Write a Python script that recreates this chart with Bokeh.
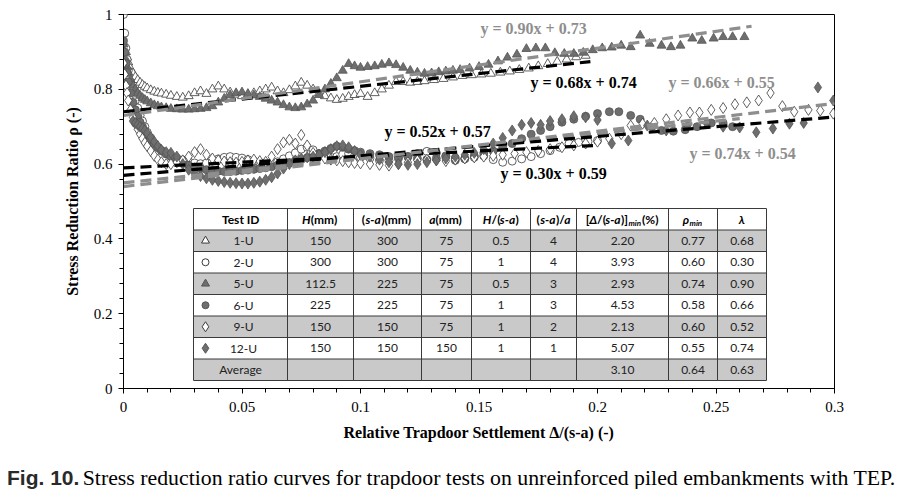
from bokeh.plotting import figure
from bokeh.models import Range1d, FixedTicker, NumeralTickFormatter, Label, Div
from bokeh.layouts import column
from bokeh.core.properties import value
from bokeh.embed import file_html
from bokeh.resources import INLINE

# ---------------- data ----------------
X_EARLY = [0.0, 0.0005, 0.001, 0.0015, 0.002, 0.003, 0.004, 0.005, 0.006, 0.007,
           0.008, 0.009, 0.010, 0.0115, 0.013, 0.0145, 0.016, 0.018, 0.020, 0.0225,
           0.025, 0.0275, 0.030, 0.0325, 0.035, 0.0375, 0.040, 0.0425, 0.045, 0.0475,
           0.050, 0.0525, 0.055, 0.0575, 0.060, 0.0625, 0.065, 0.0675, 0.070, 0.0725,
           0.075, 0.0775, 0.080, 0.0825, 0.085, 0.0875, 0.090, 0.0925, 0.095, 0.0975,
           0.100]

# 1-U (open triangles)
u1_y_early = [0.95, 0.92, 0.90, 0.885, 0.872, 0.855, 0.843, 0.833, 0.825, 0.818,
              0.812, 0.807, 0.803, 0.798, 0.794, 0.791, 0.789, 0.786, 0.783, 0.780,
              0.778, 0.782, 0.790, 0.795, 0.788, 0.800, 0.808, 0.800, 0.792, 0.786,
              0.782, 0.785, 0.790, 0.795, 0.800, 0.805, 0.795, 0.790, 0.798, 0.808,
              0.818, 0.810, 0.800, 0.790, 0.782, 0.776, 0.772, 0.775, 0.780, 0.785,
              0.788]
u1_x_tail = [0.103, 0.106, 0.109, 0.112, 0.115, 0.118, 0.121, 0.124, 0.127, 0.131,
             0.135, 0.139, 0.143, 0.147, 0.151, 0.155, 0.159, 0.163, 0.167, 0.171,
             0.175, 0.179, 0.183, 0.187, 0.191, 0.195]
u1_y_tail = [0.780, 0.790, 0.800, 0.810, 0.820, 0.820, 0.818, 0.820, 0.822, 0.825,
             0.828, 0.832, 0.836, 0.838, 0.840, 0.842, 0.845, 0.848, 0.852, 0.856,
             0.862, 0.868, 0.874, 0.880, 0.886, 0.890]

# 2-U (open circles)
u2_y_early = [1.00, 0.95, 0.91, 0.88, 0.85, 0.82, 0.795, 0.77, 0.75, 0.73,
              0.715, 0.70, 0.685, 0.67, 0.655, 0.645, 0.636, 0.628, 0.622, 0.616,
              0.611, 0.607, 0.603, 0.601, 0.603, 0.608, 0.614, 0.618, 0.620, 0.618,
              0.616, 0.612, 0.608, 0.604, 0.601, 0.602, 0.606, 0.614, 0.622, 0.630,
              0.640, 0.645, 0.638, 0.628, 0.622, 0.618, 0.620, 0.626, 0.628, 0.622,
              0.618]
u2_x_tail = [0.104, 0.108, 0.112, 0.116, 0.120, 0.124, 0.128, 0.132, 0.136, 0.140,
             0.144, 0.148, 0.152, 0.156, 0.160, 0.164, 0.168, 0.172, 0.176, 0.180,
             0.184, 0.188, 0.192, 0.196, 0.200]
u2_y_tail = [0.616, 0.610, 0.610, 0.615, 0.620, 0.628, 0.634, 0.630, 0.622, 0.616,
             0.614, 0.618, 0.622, 0.612, 0.605, 0.608, 0.614, 0.620, 0.628, 0.636,
             0.645, 0.655, 0.658, 0.660, 0.663]

# 5-U (filled triangles)
u5_y_early = [0.92, 0.90, 0.88, 0.86, 0.845, 0.825, 0.81, 0.80, 0.79, 0.783,
              0.777, 0.772, 0.768, 0.763, 0.758, 0.755, 0.752, 0.750, 0.748, 0.747,
              0.746, 0.746, 0.747, 0.748, 0.750, 0.755, 0.765, 0.775, 0.785, 0.790,
              0.792, 0.788, 0.784, 0.780, 0.775, 0.770, 0.765, 0.758, 0.752, 0.750,
              0.752, 0.760, 0.770, 0.785, 0.800, 0.815, 0.830, 0.850, 0.868, 0.862,
              0.858]
u5_x_tail = [0.103, 0.106, 0.109, 0.112, 0.115, 0.118, 0.121, 0.124, 0.127, 0.130,
             0.133, 0.136, 0.139, 0.142, 0.146, 0.150, 0.154, 0.158, 0.162, 0.166,
             0.170, 0.174, 0.178, 0.182, 0.186, 0.190, 0.194, 0.198, 0.202, 0.206,
             0.210, 0.214, 0.218, 0.222, 0.227, 0.231, 0.235, 0.240, 0.244, 0.249,
             0.253, 0.257, 0.262]
u5_y_tail = [0.860, 0.862, 0.866, 0.870, 0.865, 0.858, 0.850, 0.845, 0.842, 0.843,
             0.846, 0.848, 0.850, 0.852, 0.856, 0.860, 0.866, 0.875, 0.885, 0.893,
             0.908, 0.910, 0.910, 0.897, 0.895, 0.895, 0.898, 0.905, 0.910, 0.912,
             0.917, 0.913, 0.944, 0.922, 0.917, 0.913, 0.917, 0.936, 0.930, 0.936,
             0.940, 0.940, 0.940]

# 6-U (filled circles)
u6_y_early = [0.93, 0.90, 0.87, 0.845, 0.82, 0.79, 0.765, 0.745, 0.728, 0.712,
              0.700, 0.688, 0.677, 0.664, 0.653, 0.644, 0.636, 0.627, 0.620, 0.612,
              0.604, 0.597, 0.592, 0.588, 0.585, 0.583, 0.581, 0.580, 0.580, 0.581,
              0.583, 0.584, 0.586, 0.588, 0.590, 0.593, 0.597, 0.600, 0.604, 0.608,
              0.612, 0.617, 0.622, 0.628, 0.635, 0.642, 0.648, 0.645, 0.640, 0.636,
              0.632]
u6_x_tail = [0.104, 0.108, 0.112, 0.116, 0.120, 0.124, 0.128, 0.132, 0.136, 0.140,
             0.144, 0.148, 0.152, 0.156, 0.160, 0.164, 0.168, 0.172, 0.176, 0.180,
             0.185, 0.190, 0.195, 0.200, 0.205, 0.209, 0.214, 0.218, 0.223, 0.227,
             0.232, 0.237, 0.242, 0.248, 0.253, 0.257]
u6_y_tail = [0.628, 0.625, 0.620, 0.618, 0.620, 0.615, 0.612, 0.615, 0.620, 0.610,
             0.615, 0.622, 0.630, 0.635, 0.645, 0.655, 0.668, 0.680, 0.690, 0.700,
             0.712, 0.720, 0.728, 0.735, 0.740, 0.740, 0.730, 0.720, 0.700, 0.690,
             0.688, 0.692, 0.700, 0.710, 0.710, 0.700]

# 9-U (open diamonds)
u9_y_early = [0.87, 0.84, 0.81, 0.79, 0.77, 0.745, 0.725, 0.708, 0.693, 0.680,
              0.668, 0.657, 0.648, 0.635, 0.622, 0.612, 0.605, 0.600, 0.600, 0.605,
              0.610, 0.620, 0.632, 0.640, 0.625, 0.615, 0.610, 0.607, 0.605, 0.604,
              0.606, 0.610, 0.612, 0.608, 0.606, 0.620, 0.640, 0.658, 0.665, 0.655,
              0.678, 0.650, 0.630, 0.620, 0.615, 0.612, 0.610, 0.608, 0.605, 0.603,
              0.602]
u9_x_tail = [0.104, 0.108, 0.112, 0.116, 0.120, 0.124, 0.128, 0.132, 0.136, 0.140,
             0.144, 0.148, 0.152, 0.156, 0.160, 0.165, 0.170, 0.175, 0.180, 0.185,
             0.190, 0.195, 0.200, 0.205, 0.210, 0.214, 0.219, 0.224, 0.229, 0.234,
             0.239, 0.243, 0.248, 0.253, 0.258, 0.263, 0.268, 0.273, 0.278, 0.283,
             0.289, 0.294, 0.2995]
u9_y_tail = [0.600, 0.598, 0.596, 0.600, 0.605, 0.610, 0.612, 0.610, 0.608, 0.612,
             0.615, 0.618, 0.620, 0.622, 0.625, 0.628, 0.632, 0.635, 0.640, 0.645,
             0.650, 0.655, 0.660, 0.668, 0.680, 0.703, 0.708, 0.710, 0.720, 0.730,
             0.738, 0.738, 0.745, 0.750, 0.760, 0.765, 0.770, 0.790, 0.755, 0.740,
             0.745, 0.743, 0.735]

# 12-U (filled diamonds) - starts at X_EARLY[6]
u12_y_early = [0.715, 0.710, 0.705, 0.700, 0.695, 0.690, 0.683, 0.672, 0.660, 0.648,
               0.638, 0.632, 0.630, 0.620, 0.600, 0.585, 0.575, 0.568, 0.562, 0.558,
               0.555, 0.552, 0.550, 0.549, 0.548, 0.548, 0.550, 0.553, 0.558, 0.565,
               0.575, 0.588, 0.600, 0.610, 0.615, 0.618, 0.620, 0.625, 0.632, 0.640,
               0.648, 0.650, 0.645, 0.635, 0.625]
u12_x_tail = [0.104, 0.108, 0.112, 0.116, 0.120, 0.124, 0.128, 0.132, 0.136, 0.140,
              0.144, 0.148, 0.152, 0.156, 0.160, 0.164, 0.168, 0.172, 0.176, 0.180,
              0.185, 0.190, 0.195, 0.200, 0.206, 0.213, 0.221, 0.229, 0.238, 0.246,
              0.253, 0.260, 0.267, 0.274, 0.281, 0.287, 0.293, 0.2995]
u12_y_tail = [0.620, 0.612, 0.605, 0.600, 0.598, 0.600, 0.605, 0.610, 0.615, 0.620,
              0.625, 0.630, 0.640, 0.655, 0.670, 0.690, 0.705, 0.710, 0.705, 0.715,
              0.720, 0.728, 0.725, 0.718, 0.655, 0.663, 0.703, 0.690, 0.703, 0.710,
              0.700, 0.698, 0.685, 0.695, 0.708, 0.710, 0.805, 0.770]

# table
TEST_IDS = ["1-U", "2-U", "5-U", "6-U", "9-U", "12-U"]
H_MM = ["150", "300", "112.5", "225", "150", "150"]
SA_MM = ["300", "300", "225", "225", "150", "150"]
A_MM = ["75", "75", "75", "75", "75", "150"]
H_SA = ["0.5", "1", "0.5", "1", "1", "1"]
SA_A = ["4", "4", "3", "3", "2", "1"]
DELTA_MIN = ["2.20", "3.93", "2.93", "4.53", "2.13", "5.07"]
RHO_MIN = ["0.77", "0.60", "0.74", "0.58", "0.60", "0.55"]
LAMBDA = [0.68, 0.30, 0.90, 0.66, 0.52, 0.74]
INTERCEPT = [0.74, 0.59, 0.73, 0.55, 0.57, 0.54]
TREND_END = [0.197, 0.200, 0.265, 0.260, 0.300, 0.300]
AVERAGE = ["3.10", "0.64", "0.63"]

X_TICKS = [0, 0.05, 0.1, 0.15, 0.2, 0.25, 0.3]
Y_TICKS = [0, 0.2, 0.4, 0.6, 0.8, 1.0]

CAPTION_LEAD = "Fig. 10."
CAPTION_TEXT = "Stress reduction ratio curves for trapdoor tests on unreinforced piled embankments with TEP."

# ---------------- layout / styles ----------------
FIG_H = 455
FRAME_L, FRAME_R, FRAME_T, FRAME_B = 123, 834, 14, 388
XMAX, YMAX = 0.3, 1.0
SERIF = "Liberation Serif"
TABLE_FONT = "Lato"
GRAY_FILL = "#6e6e6e"
GRAY_LINE = "#555555"
OPEN_LINE = "#3a3a3a"
TREND_GRAY = "#8e8e8e"


def px_x(px):
    return (px - FRAME_L) / (FRAME_R - FRAME_L) * XMAX


def px_y(py):
    return (FRAME_B - py) / (FRAME_B - FRAME_T) * YMAX


series = [
    dict(x=X_EARLY + u1_x_tail, y=u1_y_early + u1_y_tail, marker="triangle", filled=False),
    dict(x=X_EARLY + u2_x_tail, y=u2_y_early + u2_y_tail, marker="circle", filled=False),
    dict(x=X_EARLY + u5_x_tail, y=u5_y_early + u5_y_tail, marker="triangle", filled=True),
    dict(x=X_EARLY + u6_x_tail, y=u6_y_early + u6_y_tail, marker="circle", filled=True),
    dict(x=X_EARLY + u9_x_tail, y=u9_y_early + u9_y_tail, marker="diamond", filled=False),
    dict(x=X_EARLY[6:] + u12_x_tail, y=u12_y_early + u12_y_tail, marker="diamond", filled=True),
]
MSIZE = {"triangle": 9, "circle": 8, "diamond": 11}

p = figure(width=907, height=FIG_H, x_range=Range1d(0, XMAX), y_range=Range1d(0, YMAX),
           output_backend="svg", toolbar_location=None,
           min_border_left=FRAME_L, min_border_right=907 - FRAME_R,
           min_border_top=FRAME_T, min_border_bottom=FIG_H - FRAME_B)
p.xgrid.visible = False
p.ygrid.visible = False
p.outline_line_color = "black"
p.outline_line_width = 1
p.background_fill_color = "white"
p.border_fill_color = "white"

p.xaxis.ticker = FixedTicker(ticks=X_TICKS, minor_ticks=[i / 100 for i in range(31)])
p.yaxis.ticker = FixedTicker(ticks=Y_TICKS, minor_ticks=[i * 0.04 for i in range(26)])
p.xaxis.formatter = NumeralTickFormatter(format="0.[00]")
p.yaxis.formatter = NumeralTickFormatter(format="0.[0]")
for ax in (p.xaxis[0], p.yaxis[0]):
    ax.axis_line_color = "black"
    ax.major_tick_line_color = "black"
    ax.minor_tick_line_color = "black"
    ax.major_tick_in = 0
    ax.major_tick_out = 5
    ax.minor_tick_in = 0
    ax.minor_tick_out = 4
    ax.major_label_text_font = SERIF
    ax.major_label_text_font_size = "15px"
    ax.major_label_text_color = "black"
    ax.axis_label_text_font = SERIF
    ax.axis_label_text_font_size = "16px"
    ax.axis_label_text_font_style = "bold"
    ax.axis_label_text_color = "black"
p.xaxis.axis_label = "Relative Trapdoor Settlement Δ/(s-a) (-)"
p.yaxis.axis_label = "Stress Reduction Ratio ρ (-)"
p.xaxis.major_label_standoff = 8
p.xaxis.axis_label_standoff = 9
p.yaxis.major_label_standoff = 6
p.yaxis.axis_label_standoff = 10

# data markers
for s in series:
    p.scatter(s["x"], s["y"], marker=s["marker"], size=MSIZE[s["marker"]],
              fill_color=GRAY_FILL if s["filled"] else "white",
              line_color=GRAY_LINE if s["filled"] else OPEN_LINE, line_width=0.8)

# trend lines and equations
EQ_POS_PX = [(530, 82), (500, 173), (480, 28), (668, 82), (384, 131), (689, 153)]
for s, k, b, xe, (ex, ey) in zip(series, LAMBDA, INTERCEPT, TREND_END, EQ_POS_PX):
    col = TREND_GRAY if s["filled"] else "black"
    p.line([0, xe], [b, k * xe + b], line_color=col, line_width=3.2, line_dash="11 6")
    p.add_layout(Label(x=px_x(ex), y=px_y(ey), text=f"y = {k:.2f}x + {b:.2f}",
                       text_font=SERIF, text_font_style="bold", text_font_size="16px",
                       text_color=col, text_baseline="middle", text_align="left"))

# ---------------- table ----------------
COL_PX = [193, 287, 353, 421, 471, 530, 576, 668, 717, 766]
ROW_TOP_PX, ROW_H_PX, N_ROWS = 208, 21.5, 8
cols = [px_x(c) for c in COL_PX]
rows = [px_y(ROW_TOP_PX + i * ROW_H_PX) for i in range(N_ROWS + 1)]
row_mid = [(rows[i] + rows[i + 1]) / 2 for i in range(N_ROWS)]
col_mid = [(cols[i] + cols[i + 1]) / 2 for i in range(len(cols) - 1)]

shade = [False, True, False, True, False, True, False, True]
p.quad(left=[cols[0]] * N_ROWS, right=[cols[-1]] * N_ROWS,
       top=rows[:-1], bottom=rows[1:],
       fill_color=["#c9c9c9" if sh else "white" for sh in shade], line_color=None)
xs, ys = [], []
for r in rows:
    xs.append([cols[0], cols[-1]]); ys.append([r, r])
for c in cols:
    xs.append([c, c]); ys.append([rows[0], rows[-1]])
p.multi_line(xs, ys, line_color="#3a3a3a", line_width=1)

CW = {"m": 0.87, "i": 0.26, "l": 0.26, "n": 0.57, "(": 0.31, ")": 0.31, "[": 0.31,
      "]": 0.31, "/": 0.38, "-": 0.36, "a": 0.52, "s": 0.43, "H": 0.74, "Δ": 0.64,
      "ρ": 0.56, "%": 0.82, "λ": 0.55, "T": 0.55, "e": 0.52, "t": 0.36, " ": 0.23,
      "I": 0.28, "D": 0.72}


def tw(t, size):
    return sum(CW.get(ch, 0.55) for ch in t) * size


HEADERS = [
    [("Test ID", "bold")],
    [("H", "bold italic"), ("(mm)", "bold")],
    [("(", "bold"), ("s-a", "bold italic"), (")(mm)", "bold")],
    [("a", "bold italic"), ("(mm)", "bold")],
    [("H", "bold italic"), ("/(", "bold"), ("s-a", "bold italic"), (")", "bold")],
    [("(", "bold"), ("s-a", "bold italic"), (")/", "bold"), ("a", "bold italic")],
    [("[", "bold"), ("Δ", "bold italic"), ("/(", "bold"), ("s-a", "bold italic"),
     (")]", "bold"), ("min", "sub"), ("(%)", "bold")],
    [("ρ", "bold italic"), ("min", "sub")],
    [("λ", "bold italic")],
]
HS = 12
for cm, pieces in zip(col_mid, HEADERS):
    sizes = [8 if st == "sub" else HS for _, st in pieces]
    total = sum(tw(t, sz) for (t, _), sz in zip(pieces, sizes))
    off = -total / 2
    for (t, st), sz in zip(pieces, sizes):
        p.text(x=[cm], y=[row_mid[0]], text=[t], x_offset=off, y_offset=4 if st == "sub" else 0,
               text_font=value(TABLE_FONT), text_font_size=f"{sz}px",
               text_font_style="bold italic" if st == "sub" else st,
               text_align="left", text_baseline="middle", text_color="black")
        off += tw(t, sz)

body_cols = [H_MM, SA_MM, A_MM, H_SA, SA_A, DELTA_MIN, RHO_MIN, [f"{v:.2f}" for v in LAMBDA]]
tx, ty, tt = [], [], []
for r, tid in enumerate(TEST_IDS):
    tx.append(px_x(243)); ty.append(row_mid[r + 1]); tt.append(tid)
    for c, colvals in enumerate(body_cols):
        tx.append(col_mid[c + 1]); ty.append(row_mid[r + 1]); tt.append(colvals[r])
tx.append(col_mid[0]); ty.append(row_mid[-1]); tt.append("Average")
for c, v in zip((6, 7, 8), AVERAGE):
    tx.append(col_mid[c]); ty.append(row_mid[-1]); tt.append(v)
p.text(x=tx, y=ty, text=tt, text_font=value(TABLE_FONT), text_font_size="12px",
       text_align="center", text_baseline="middle", text_color="#222222")

# legend markers in table
for r, s in enumerate(series):
    p.scatter([px_x(205)], [row_mid[r + 1]], marker=s["marker"], size=MSIZE[s["marker"]] - 1,
              fill_color=GRAY_FILL if s["filled"] else "white",
              line_color=GRAY_LINE if s["filled"] else OPEN_LINE, line_width=1)

# caption
caption = Div(
    text=(f'<span style="font-family:\'Liberation Sans\';font-weight:bold;font-size:21px;'
          f'color:#2a2a2a">{CAPTION_LEAD}</span> '
          f'<span style="font-family:\'Liberation Serif\';font-size:21.8px;color:#000">'
          f'{CAPTION_TEXT}</span>'),
    width=907, height=489 - FIG_H, margin=(0, 0, 0, 0),
    styles={"padding-left": "7px", "padding-top": "12px", "white-space": "nowrap",
            "line-height": "22px"})

layout = column(p, caption, spacing=0)
open("out.html", "w").write(file_html(layout, INLINE))
